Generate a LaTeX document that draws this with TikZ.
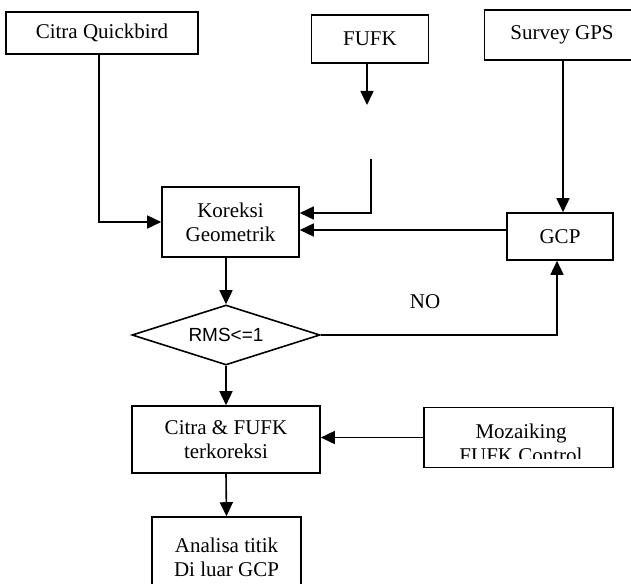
\documentclass[tikz,border=0pt]{standalone}
\usepackage{fontspec}
\setmainfont{Liberation Serif}
\newfontfamily\armsfont{Liberation Sans}
\usetikzlibrary{arrows.meta,shapes.geometric}

\begin{document}
\begin{tikzpicture}[x=1pt,y=-1pt,
    box/.style={draw,line width=1.6pt,align=center,inner sep=0pt,
        font=\fontsize{21}{24}\selectfont},
    arr/.style={line width=1.6pt,-{Triangle[length=14pt,width=13pt]}},
    lin/.style={line width=1.6pt}
]

    \useasboundingbox (0,0) rectangle (631,583);

    % input boxes
    \node[box,minimum width=192,minimum height=42] (cq) at (102,33) {Citra Quickbird};
    \node[box,minimum width=117,minimum height=48] (fufk) at (370,39) {FUFK};
    \node[box,minimum width=155,minimum height=50] (gps) at (562,35) {Survey GPS};

    % main column
    \node[box,minimum width=137,minimum height=70] (kor) at (230.5,222) {Koreksi\\Geometrik};
    \node[box,minimum width=106,minimum height=47] (gcp) at (560,236.5) {GCP};
    \node[draw,diamond,line width=1.6pt,aspect=3,inner sep=0pt,
        minimum width=188,minimum height=60,font=\armsfont\fontsize{19}{22}\selectfont]
        (rms) at (226,335) {RMS<=1};
    \node[font=\fontsize{21}{24}\selectfont] (no) at (425,302) {NO};
    \node[box,minimum width=188,minimum height=67] (cfk) at (226,439.5) {Citra \& FUFK\\terkoreksi};
    \node[box,minimum width=189,minimum height=60] (moz) at (518.5,437.5) {};
    \node[box,minimum width=149,minimum height=80] (ana) at (226.5,557) {Analisa titik\\Di luar GCP};

    % clipped label in the mozaiking box
    \begin{scope}
        \clip (424,407) rectangle (613,458);
        \node[font=\fontsize{21}{24}\selectfont,align=center] (moztxt) at (521,443) {Mozaiking\\FUFK Control};
    \end{scope}

    % helper points
    \coordinate (cqx) at (99,0);
    \coordinate (fufkx) at (367,0);
    \coordinate (fufktip) at (367,105);
    \coordinate (fufkgap) at (371,159);
    \coordinate (topy) at (0,213);
    \coordinate (gcpy) at (0,230);
    \coordinate (gpsx) at (563,0);
    \coordinate (nox) at (557,0);

    % connectors
    \draw[arr] (cq.south -| cqx) |- (kor.west);
    \draw[arr] (fufk.south -| fufkx) -- (fufktip);
    \draw[arr] (fufkgap) |- (kor.east |- topy);
    \draw[arr] (gps.south -| gpsx) -- (gcp.north -| gpsx);
    \draw[arr] (gcp.west |- gcpy) -- (kor.east |- gcpy);
    \draw[arr] (rms.north |- kor.south) -- (rms.north);
    \draw[arr] (rms.east) -| (gcp.south -| nox);
    \draw[arr] (rms.south) -- (cfk.north);
    \draw[arr] (moz.west) -- (moz.west -| cfk.east);
    \draw[arr] (cfk.south) -- (ana.north);

\end{tikzpicture}
\end{document}
